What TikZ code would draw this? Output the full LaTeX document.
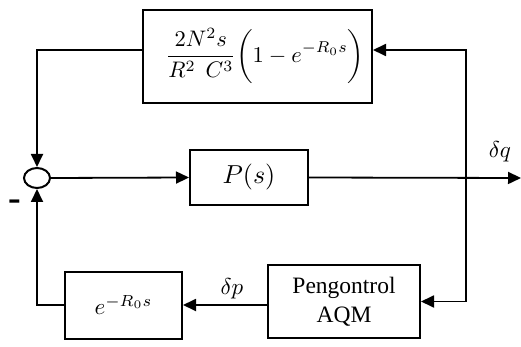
\documentclass[tikz,border=0pt]{standalone}
\usepackage{graphicx}
\usepackage{fontspec}
\setmainfont{Liberation Serif}
\usetikzlibrary{arrows.meta,shapes.geometric}
\begin{document}
\begin{tikzpicture}[x=1pt,y=-1pt,
  blk/.style={draw,line width=2pt,rectangle,inner sep=0pt},
  conn/.style={line width=1.8pt},
  arr/.style={conn,-{Triangle[length=13pt,width=12pt]}}]
\useasboundingbox (0,0) rectangle (521,347);
\node[blk,minimum width=229pt,minimum height=93pt] (top) at (257.5,56.5) {};
\node (topf) at (265,56) {\scalebox{2.25}{$\displaystyle\frac{2N^2 s}{R^2\;\,C^3}\biggl(1-e^{-R_0 s}\biggr)$}};
\node[blk,minimum width=118pt,minimum height=55pt] (P) at (249,177.5) {\scalebox{2.6}{$P(s)$}};
\node[draw,line width=2pt,ellipse,minimum width=26pt,minimum height=20pt,inner sep=0pt] (sum) at (37,178) {};
\node[blk,minimum width=117pt,minimum height=67pt] (delay) at (123.5,305) {\scalebox{2.3}{$e^{-R_0 s}$}};
\node[blk,minimum width=152pt,minimum height=73pt,font=\fontsize{23.5}{29}\selectfont,align=center] (aqm) at (344,301.5) {Pengontrol\\AQM};
\coordinate (br) at (466,178);
\coordinate (out) at (521,178);
\draw[arr] (sum.east) -- (P.west);
\draw[arr] (P.east) -- (out);
\draw[arr] (br) |- ([yshift=6.5pt]top.east);
\draw[arr] (br) |- (aqm.east);
\draw[arr] (delay.east -| aqm.west) -- (delay.east);
\draw[arr] (delay.west) -| (sum.south);
\draw[arr] ([yshift=6.5pt]top.west) -| (sum.north);
\node (dq) at (500,152) {\scalebox{2.3}{$\delta q$}};
\node (dp) at (232,289) {\scalebox{2.3}{$\delta p$}};
\node[font=\bfseries\fontsize{38}{38}\selectfont,inner sep=0pt] (minus) at (15,205) {-};
\end{tikzpicture}
\end{document}
